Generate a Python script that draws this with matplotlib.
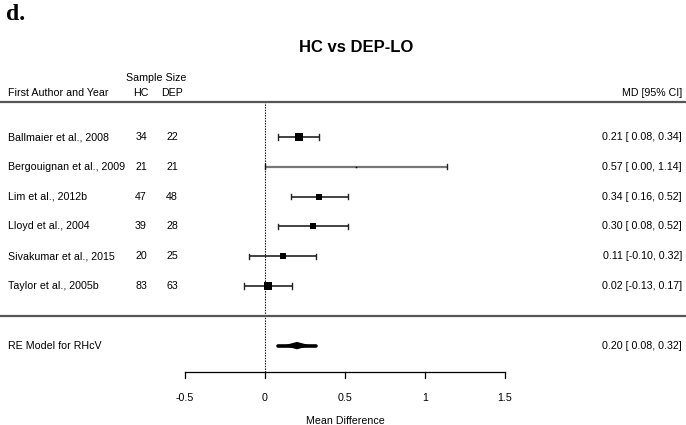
import matplotlib
matplotlib.use("Agg")
import matplotlib.pyplot as plt
import numpy as np

# ---- data ----
studies = ["Ballmaier et al., 2008", "Bergouignan et al., 2009", "Lim et al., 2012b",
           "Lloyd et al., 2004", "Sivakumar et al., 2015", "Taylor et al., 2005b"]
n_hc = [34, 21, 47, 39, 20, 83]
n_dep = [22, 21, 48, 28, 25, 63]
md = [0.21, 0.57, 0.34, 0.30, 0.11, 0.02]
ci_low = [0.08, 0.00, 0.16, 0.08, -0.10, -0.13]
ci_high = [0.34, 1.14, 0.52, 0.52, 0.32, 0.17]
re_label = "RE Model for RHcV"
re_md, re_low, re_high = 0.20, 0.08, 0.32
xticks = [-0.5, 0, 0.5, 1, 1.5]
xtick_labels = ["-0.5", "0", "0.5", "1", "1.5"]

# ---- style / layout ----
W, H = 686, 425
px_per_unit = 160.0
x0_px = 265.0
row_px = 29.8
fig = plt.figure(figsize=(W / 100, H / 100), dpi=100)
ax = fig.add_axes([0, 0, 1, 1])
ax.set_xlim(-x0_px / px_per_unit, (W - x0_px) / px_per_unit)
ax.set_ylim(4 - (H - 286) / row_px, 4 + 286 / row_px)
ax.axis("off")

FONT = "Liberation Sans"
fs = 7.7
rows = np.arange(len(studies) + 3, 3, -1)  # 9..4
marker_px = [7.5, 1.5, 6.5, 6.0, 5.5, 7.5]

yt = ax.get_yaxis_transform()
def xf(px):
    return px / W

line_col = "#222222"
for r, lo, hi, m, s in zip(rows, ci_low, ci_high, md, marker_px):
    col = "#777777" if s < 2 else line_col
    lw = 1.6 if s < 2 else 1.2
    ax.plot([lo, hi], [r, r], color=col, lw=lw, solid_capstyle="butt")
    ax.plot([lo, lo], [r - 0.085, r + 0.085], color=line_col, lw=1.0)
    ax.plot([hi, hi], [r - 0.085, r + 0.085], color=line_col, lw=1.0)
    ax.plot([m], [r], marker="s", color="black", markersize=s * 0.72, mew=0)

# RE summary: thick bar with a diamond bulge in the middle
r_re = 2
h = 0.1
ax.plot([re_low, re_high], [r_re, r_re], color="black", lw=2.6, solid_capstyle="round")
ax.fill([re_md - 0.07, re_md, re_md + 0.07, re_md], [r_re, r_re + h, r_re, r_re - h],
        color="black", lw=1.0, ec="black")

# reference dotted line
top_sep = 4 + (286 - 102) / row_px
axis_r = 4 - (372 - 286) / row_px
ax.plot([0, 0], [axis_r, top_sep], color="black", lw=0.8, ls=(0, (1.2, 1.2)))

# separators
for yy in [top_sep, 3]:
    ax.plot([ax.get_xlim()[0], ax.get_xlim()[1]], [yy, yy], color="#555555", lw=1.6)

# x axis
ax.plot([xticks[0], xticks[-1]], [axis_r, axis_r], color="black", lw=0.9)
tick_len = 6 / row_px
for t, lab in zip(xticks, xtick_labels):
    ax.plot([t, t], [axis_r, axis_r - tick_len], color="black", lw=0.9)
    ax.text(t, 4 - (398 - 286) / row_px, lab, ha="center", va="center",
            fontsize=fs, family=FONT)
ax.text(0.5, 4 - (421 - 286) / row_px, "Mean Difference", ha="center", va="center",
        fontsize=fs, family=FONT)

# texts
for r, name, a, b, m, lo, hi in zip(rows, studies, n_hc, n_dep, md, ci_low, ci_high):
    ax.text(xf(8), r, name, transform=yt, ha="left", va="center", fontsize=fs, family=FONT)
    ax.text(xf(141), r, str(a), transform=yt, ha="center", va="center", fontsize=fs, family=FONT)
    ax.text(xf(172), r, str(b), transform=yt, ha="center", va="center", fontsize=fs, family=FONT)
    lo_s = f"{lo:.2f}" if lo < 0 else f" {lo:.2f}"
    ax.text(xf(682), r, f"{m:.2f} [{lo_s}, {hi:.2f}]", transform=yt, ha="right",
            va="center", fontsize=fs, family=FONT)

ax.text(xf(8), r_re, re_label, transform=yt, ha="left", va="center", fontsize=fs, family=FONT)
ax.text(xf(682), r_re, f"{re_md:.2f} [ {re_low:.2f}, {re_high:.2f}]", transform=yt,
        ha="right", va="center", fontsize=fs, family=FONT)

hdr_r = 4 + (286 - 93) / row_px
ss_r = 4 + (286 - 78) / row_px
ax.text(xf(8), hdr_r, "First Author and Year", transform=yt, ha="left", va="center",
        fontsize=fs, family=FONT)
ax.text(xf(141), hdr_r, "HC", transform=yt, ha="center", va="center", fontsize=fs, family=FONT)
ax.text(xf(172), hdr_r, "DEP", transform=yt, ha="center", va="center", fontsize=fs, family=FONT)
ax.text(xf(156), ss_r, "Sample Size", transform=yt, ha="center", va="center",
        fontsize=fs, family=FONT)
ax.text(xf(682), hdr_r, "MD [95% CI]", transform=yt, ha="right", va="center",
        fontsize=fs, family=FONT)

ax.text(xf(356), 4 + (286 - 47) / row_px, "HC vs DEP-LO", transform=yt, ha="center",
        va="center", fontsize=12, family=FONT, fontweight="bold")
ax.text(xf(6), 4 + (286 - 14) / row_px, "d.", transform=yt, ha="left", va="center",
        fontsize=17, family="Liberation Serif", fontweight="bold")

fig.savefig("out.png", dpi=100)
